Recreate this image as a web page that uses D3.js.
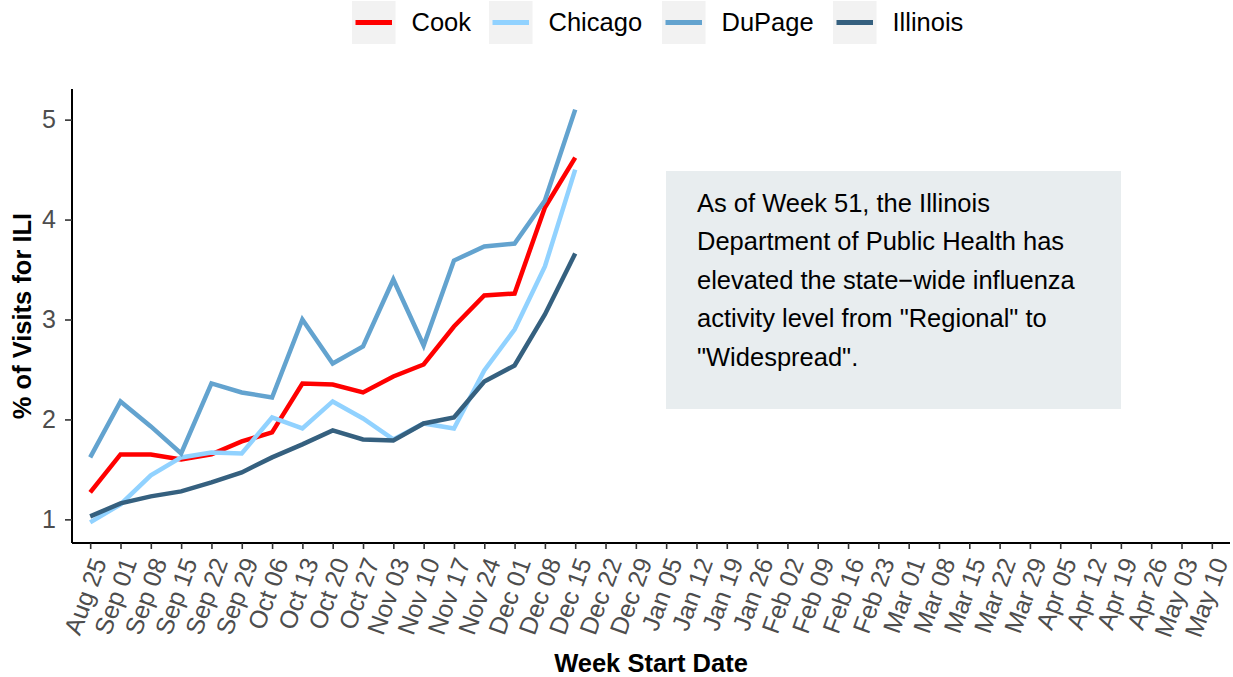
<!DOCTYPE html>
<html>
<head>
<meta charset="utf-8">
<script src="https://cdn.jsdelivr.net/npm/d3@7"></script>
<style>
  body { margin: 0; background: #fff; }
  text { font-family: "Liberation Sans", Arial, sans-serif; }
</style>
</head>
<body>
<div id="chart"></div>
<script>
// Week labels on the x axis
const weeks = ["Aug 25", "Sep 01", "Sep 08", "Sep 15", "Sep 22", "Sep 29",
  "Oct 06", "Oct 13", "Oct 20", "Oct 27", "Nov 03", "Nov 10", "Nov 17", "Nov 24",
  "Dec 01", "Dec 08", "Dec 15", "Dec 22", "Dec 29", "Jan 05", "Jan 12", "Jan 19",
  "Jan 26", "Feb 02", "Feb 09", "Feb 16", "Feb 23", "Mar 01", "Mar 08", "Mar 15",
  "Mar 22", "Mar 29", "Apr 05", "Apr 12", "Apr 19", "Apr 26", "May 03", "May 10"];

// % of visits for ILI, one value per week so far
const cook     = [1.27, 1.65, 1.65, 1.60, 1.65, 1.78, 1.87, 2.36, 2.35, 2.27, 2.43, 2.55, 2.93, 3.24, 3.26, 4.12, 4.62];
const chicago  = [0.97, 1.15, 1.44, 1.62, 1.67, 1.66, 2.02, 1.91, 2.18, 2.01, 1.80, 1.96, 1.91, 2.49, 2.90, 3.53, 4.50];
const dupage   = [1.62, 2.18, 1.93, 1.66, 2.36, 2.27, 2.22, 3.00, 2.56, 2.73, 3.40, 2.74, 3.59, 3.73, 3.76, 4.19, 5.10];
const illinois = [1.03, 1.16, 1.23, 1.28, 1.37, 1.47, 1.62, 1.75, 1.89, 1.80, 1.79, 1.96, 2.02, 2.38, 2.54, 3.05, 3.66];

const seriesNames = ["Cook", "Chicago", "DuPage", "Illinois"];
const seriesColors = ["#ff0000", "#91d2ff", "#63a3cf", "#35607f"];
const yTicks = [1, 2, 3, 4, 5];

const note = ["As of Week 51, the Illinois",
  "Department of Public Health has",
  "elevated the state\u2212wide influenza",
  "activity level from \"Regional\" to",
  "\"Widespread\"."];

const series = [cook, chicago, dupage, illinois].map(function(vals, i) {
  return {name: seriesNames[i], color: seriesColors[i],
    values: vals.map(function(v, j) { return {week: weeks[j], value: v}; })};
});

const W = 1233, H = 677;
const panel = {left: 72, right: 1230, top: 89, bottom: 543};

const svg = d3.select("#chart")
  .append("svg")
  .attr("width", W)
  .attr("height", H);

// Scales
const x = d3.scalePoint()
  .domain(weeks)
  .range([panel.left, panel.right])
  .padding(0.6);

const all = [].concat(cook, chicago, dupage, illinois);
const lo = d3.min(all), hi = d3.max(all), pad = (hi - lo) * 0.05;
const y = d3.scaleLinear()
  .domain([lo - pad, hi + pad])
  .range([panel.bottom, panel.top]);

// Annotation box
svg.append("rect")
  .attr("x", 666).attr("y", 171)
  .attr("width", 455).attr("height", 238)
  .attr("fill", "#e8edef");

svg.append("g")
  .selectAll("text")
  .data(note)
  .join("text")
  .attr("x", 697)
  .attr("y", function(d, i) { return 203 + i * 38.4; })
  .attr("dy", "0.35em")
  .style("font-size", "25.5px")
  .attr("fill", "#000")
  .text(function(d) { return d; });

// Lines
const line = d3.line()
  .x(function(d) { return x(d.week); })
  .y(function(d) { return y(d.value); });

svg.append("g")
  .selectAll("path")
  .data(series)
  .join("path")
  .attr("d", function(d) { return line(d.values); })
  .attr("fill", "none")
  .attr("stroke", function(d) { return d.color; })
  .attr("stroke-width", 4.5)
  .attr("stroke-linejoin", "miter")
  .attr("stroke-linecap", "butt");

// X axis
const xAxis = svg.append("g")
  .attr("transform", `translate(0, ${panel.bottom})`)
  .call(d3.axisBottom(x).tickSize(6).tickSizeOuter(0));
xAxis.select(".domain")
  .attr("d", `M${panel.left},0H${panel.right}`)
  .attr("stroke", "#000").attr("stroke-width", 2);
xAxis.selectAll(".tick line").attr("stroke", "#333").attr("stroke-width", 1.6);
xAxis.selectAll(".tick text")
  .attr("y", 0).attr("dy", "0.35em")
  .attr("transform", "translate(8, 16) rotate(-70)")
  .style("text-anchor", "end")
  .style("font-size", "25px")
  .style("font-family", "'Liberation Sans', Arial, sans-serif")
  .attr("fill", "#4d4d4d");

// Y axis
const yAxis = svg.append("g")
  .attr("transform", `translate(${panel.left}, 0)`)
  .call(d3.axisLeft(y).tickValues(yTicks).tickFormat(d3.format("d")).tickSize(7).tickSizeOuter(0));
yAxis.select(".domain")
  .attr("d", `M0,${panel.top}V${panel.bottom}`)
  .attr("stroke", "#000").attr("stroke-width", 2);
yAxis.selectAll(".tick line").attr("stroke", "#333").attr("stroke-width", 1.6);
yAxis.selectAll(".tick text")
  .attr("x", -16)
  .style("font-size", "25px")
  .style("font-family", "'Liberation Sans', Arial, sans-serif")
  .attr("fill", "#4d4d4d");

// Axis titles
svg.append("text")
  .attr("x", (panel.left + panel.right) / 2)
  .attr("y", 663)
  .attr("dy", "0.35em")
  .attr("text-anchor", "middle")
  .style("font-size", "25.5px")
  .style("font-weight", "bold")
  .text("Week Start Date");

svg.append("text")
  .attr("transform", `translate(22, ${(panel.top + panel.bottom) / 2}) rotate(-90)`)
  .attr("dy", "0.35em")
  .attr("text-anchor", "middle")
  .style("font-size", "25.5px")
  .style("font-weight", "bold")
  .text("% of Visits for ILI");

// Legend
const legendX = [352, 489, 662, 833];
const legend = svg.append("g")
  .selectAll("g")
  .data(series)
  .join("g")
  .attr("transform", function(d, i) { return `translate(${legendX[i]}, 1)`; });

legend.append("rect")
  .attr("width", 43.5).attr("height", 43)
  .attr("fill", "#f2f2f2");

legend.append("line")
  .attr("x1", 3.5).attr("x2", 40)
  .attr("y1", 21.5).attr("y2", 21.5)
  .attr("stroke", function(d) { return d.color; })
  .attr("stroke-width", 5);

legend.append("text")
  .attr("x", 59.5)
  .attr("y", 21.5)
  .attr("dy", "0.35em")
  .style("font-size", "25.5px")
  .text(function(d) { return d.name; });
</script>
</body>
</html>
